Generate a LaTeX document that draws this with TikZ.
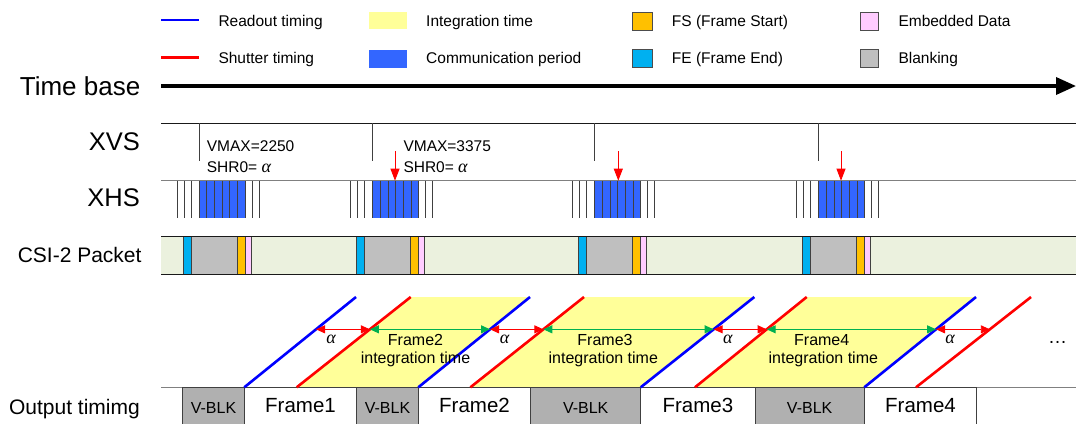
\documentclass[tikz,border=0pt]{standalone}
\usepackage{fontspec}
\setmainfont{Liberation Sans}
\newfontfamily\alphafont{Liberation Serif}
\usetikzlibrary{arrows.meta,calc}
\definecolor{blueblk}{HTML}{3366FF}
\definecolor{fecyan}{HTML}{00B0F0}
\definecolor{fsorange}{HTML}{FFC000}
\definecolor{edpink}{HTML}{FFCCFF}
\definecolor{csigray}{HTML}{BFBFBF}
\definecolor{csigreen}{HTML}{EBF1DE}
\definecolor{intyellow}{HTML}{FFFF99}
\definecolor{vblkgray}{HTML}{B0B0B0}
\definecolor{arrgreen}{HTML}{00B050}
\definecolor{rdblue}{HTML}{0000FF}
\definecolor{shred}{HTML}{FF0000}
\newcommand\myfs[1]{\fontsize{#1}{#1}\selectfont}
\newcommand\myalpha{{\alphafont\itshape\fontsize{18}{18}\selectfont α}}
\begin{document}
\begin{tikzpicture}[x=1pt,y=-1pt,
  txt/.style={inner sep=0pt,font=\myfs{15.5}},
  bigtxt/.style={inner sep=0pt,font=\myfs{25.5}},
  readout/.style={draw=rdblue,line width=2.6pt},
  shutter/.style={draw=shred,line width=2.6pt},
  tickln/.style={draw=black!75,line width=0.9pt},
  seg/.style={draw=black!75,line width=0.8pt},
  legbox/.style={draw=black!70,line width=0.8pt},
  alphaarr/.style={draw=shred,line width=0.9pt,{Triangle[length=9pt,width=8pt]}-{Triangle[length=9pt,width=8pt]}},
  intarr/.style={draw=arrgreen,line width=1pt,{Triangle[length=9pt,width=8pt]}-{Triangle[length=9pt,width=8pt]}},
  downarr/.style={draw=shred,line width=0.9pt,-{Triangle[length=12pt,width=9pt]}},
  outbox/.style={draw=black!75,line width=0.9pt}]
\useasboundingbox (0,0) rectangle (1076,423);
\clip (0,0) rectangle (1076,423);

% ---------------- legend ----------------
\coordinate (lr1) at (161,20); \coordinate (lr2) at (199,20);
\coordinate (ls1) at (161,57.7); \coordinate (ls2) at (199,57.7);
\draw[readout,line width=2.5pt] (lr1) -- (lr2);
\draw[shutter,line width=2.5pt] (ls1) -- (ls2);
\node[txt,anchor=base west] (lgro) at (218.3,26.3) {Readout timing};
\node[txt,anchor=base west] (lgsh) at (218.3,63.8) {Shutter timing};
\fill[intyellow] (369,12.3) rectangle (407,29.3);
\fill[blueblk] (369,50) rectangle (407,67.7);
\node[txt,anchor=base west] (lgit) at (426,26.3) {Integration time};
\node[txt,anchor=base west] (lgcp) at (426,63.8) {Communication period};
\filldraw[legbox,fill=fsorange] (632.3,12.3) rectangle (652.7,30);
\filldraw[legbox,fill=fecyan] (632.3,49.3) rectangle (652.7,67.7);
\node[txt,anchor=base west] (lgfs) at (671.7,26.3) {FS (Frame Start)};
\node[txt,anchor=base west] (lgfe) at (671.7,63.8) {FE (Frame End)};
\filldraw[legbox,fill=edpink] (860.3,12.3) rectangle (878.7,30);
\filldraw[legbox,fill=csigray] (860.3,49.3) rectangle (878.7,67.7);
\node[txt,anchor=base west] (lged) at (898.3,26.3) {Embedded Data};
\node[txt,anchor=base west] (lgbl) at (898.3,63.8) {Blanking};

% ---------------- time base ----------------
\node[inner sep=0pt,font=\myfs{26},anchor=base east] (tb) at (140.5,95) {Time base};
\coordinate (tbs) at (161,86); \coordinate (tbe) at (1076,86);
\draw[line width=3.5pt,-{Triangle[length=20pt,width=17pt]}] (tbs) -- (tbe);

% ---------------- XVS ----------------
\node[bigtxt,anchor=base east] (xvs) at (140,150.7) {XVS};
\draw[black!90,line width=1.2pt] (161,123.3) -- (1076,123.3);
\foreach \B in {199,372.7,594.7,818.7}
  \draw[tickln] (\B,123.3) -- (\B,160.7);
\node[txt,anchor=base west] (vm1) at (206.7,151) {VMAX=2250};
\node[txt,anchor=base west] (sh1) at (206.7,172.7) {SHR0= \myalpha};
\node[txt,anchor=base west] (vm2) at (403.3,151) {VMAX=3375};
\node[txt,anchor=base west] (sh2) at (403.3,172.7) {SHR0= \myalpha};

% ---------------- XHS ----------------
\node[bigtxt,anchor=base east] (xhs) at (140,206.7) {XHS};
\draw[black!50,line width=1.5pt] (161,180.7) -- (1076,180.7);
\foreach \B in {199,372.7,594.7,818.7}{
  \foreach \d in {-22,-15,-8,53,60}
    \draw[tickln] ({\B+\d},180.7) -- ({\B+\d},218.3);
  \fill[blueblk] (\B,180.7) rectangle ({\B+46},218.3);
  \foreach \k in {0,...,6}
    \draw[tickln] ({\B+46*\k/6},180.7) -- ({\B+46*\k/6},218.3);
}
\foreach \X/\n in {395/1,618.3/2,841/3}{
  \coordinate (da\n) at (\X,151);
  \coordinate (db\n) at (\X,180.7);
  \draw[downarr] (da\n) -- (db\n);
}

% ---------------- CSI-2 ----------------
\node[inner sep=0pt,font=\myfs{21},anchor=base east] (csi) at (141.7,262.7) {CSI-2 Packet};
\fill[csigreen] (161,236.7) rectangle (1076,274.3);
\foreach \B in {199,372.7,594.7,818.7}{
  \filldraw[seg,fill=fecyan] ({\B-16},236.7) rectangle ({\B-8},274.3);
  \filldraw[seg,fill=csigray] ({\B-8},236.7) rectangle ({\B+38},274.3);
  \filldraw[seg,fill=fsorange] ({\B+38},236.7) rectangle ({\B+46},274.3);
  \filldraw[seg,fill=edpink] ({\B+46},236.7) rectangle ({\B+52},274.3);
}
\draw[black!90,line width=1.2pt] (161,236.7) -- (1076,236.7);
\draw[black!90,line width=1.2pt] (161,274.3) -- (1076,274.3);

% ---------------- frames ----------------
\coordinate (B1b) at (244.3,387.3); \coordinate (B1t) at (356,297);
\coordinate (R2b) at (296.7,387.3); \coordinate (R2t) at (410.7,297);
\coordinate (B2b) at (418.3,387.3); \coordinate (B2t) at (530,297);
\coordinate (R3b) at (470.4,387.3); \coordinate (R3t) at (584,297);
\coordinate (B3b) at (640.7,387.3); \coordinate (B3t) at (754.3,297);
\coordinate (R4b) at (695,387.3);   \coordinate (R4t) at (806.7,297);
\coordinate (B4b) at (864.3,387.3); \coordinate (B4t) at (976,297);
\coordinate (R5b) at (916,387.3);   \coordinate (R5t) at (1031,297);
\foreach \n in {B1,R2,B2,R3,B3,R4,B4,R5}
  \coordinate (m\n) at ($(\n b)!0.642!(\n t)$);

\fill[intyellow] (R2b) -- (R2t) -- (B2t) -- (B2b) -- cycle;
\fill[intyellow] (R3b) -- (R3t) -- (B3t) -- (B3b) -- cycle;
\fill[intyellow] (R4b) -- (R4t) -- (B4t) -- (B4b) -- cycle;

% output timing row
\node[inner sep=0pt,font=\myfs{21},anchor=base east] (ot) at (140,414) {Output timimg};
\draw[black!50,line width=1.2pt] (161,387.5) -- (1076,387.5);
\foreach \a/\b/\n in {182.7/244.3/1,356.7/418.3/2,530.7/640.7/3,755/864.3/4}{
  \filldraw[outbox,fill=vblkgray] (\a,387.5) rectangle (\b,440);
  \node[txt,font=\myfs{16},anchor=base] (vb\n) at ({(\a+\b)/2},413.3) {V-BLK};
}
\foreach \a/\b/\n in {244.3/356.7/1,418.3/530.7/2,640.7/755/3,864.3/976.7/4}{
  \filldraw[outbox,fill=white] (\a,387.5) rectangle (\b,440);
  \node[inner sep=0pt,font=\myfs{20.5},anchor=base] (fr\n) at ({(\a+\b)/2},412.5) {Frame\n};
}

% slanted lines
\draw[readout] (B1b) -- (B1t);
\draw[readout] (B2b) -- (B2t);
\draw[readout] (B3b) -- (B3t);
\draw[readout] (B4b) -- (B4t);
\draw[shutter] (R2b) -- (R2t);
\draw[shutter] (R3b) -- (R3t);
\draw[shutter] (R4b) -- (R4t);
\draw[shutter] (R5b) -- (R5t);

% arrows
\draw[alphaarr] (mB1) -- (mR2);
\draw[alphaarr] (mB2) -- (mR3);
\draw[alphaarr] (mB3) -- (mR4);
\draw[alphaarr] (mB4) -- (mR5);
\draw[intarr] (mR2) -- (mB2);
\draw[intarr] (mR3) -- (mB3);
\draw[intarr] (mR4) -- (mB4);

% labels
\foreach \x/\n in {331/1,504.7/2,727.8/3,950/4}
  \node[inner sep=0pt,anchor=base] (al\n) at (\x,343.3) {\myalpha};
\node[txt,font=\myfs{16},anchor=base] (f2a) at (415.5,345) {Frame2};
\node[txt,font=\myfs{16},anchor=base] (f2b) at (415.5,363) {integration time};
\node[txt,font=\myfs{16},anchor=base] (f3a) at (605,345) {Frame3};
\node[txt,font=\myfs{16},anchor=base] (f3b) at (603.3,363) {integration time};
\node[txt,font=\myfs{16},anchor=base] (f4a) at (821.7,345) {Frame4};
\node[txt,font=\myfs{16},anchor=base] (f4b) at (823.3,363) {integration time};
\node[inner sep=0pt,font=\myfs{19},anchor=base west] (dots) at (1048,343) {…};
\end{tikzpicture}
\end{document}
